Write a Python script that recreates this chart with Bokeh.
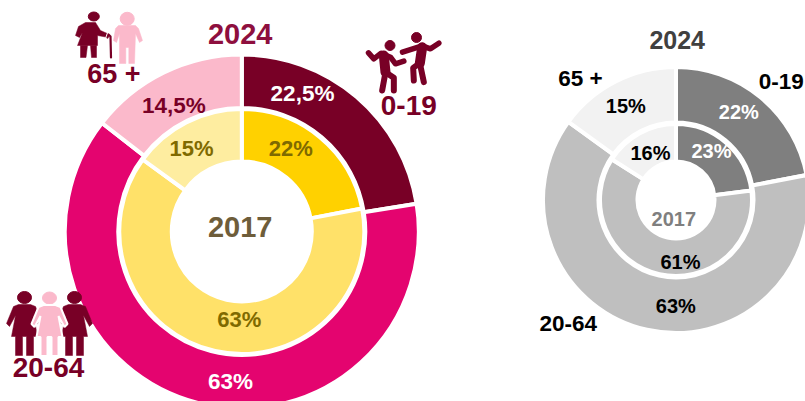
from math import pi
from bokeh.plotting import figure
from bokeh.embed import file_html
from bokeh.resources import INLINE
from bokeh.core.properties import value

groups = ["0-19", "20-64", "65 +"]
left_2024 = [22.5, 63, 14.5]
left_2017 = [22, 63, 15]
right_2024 = [22, 63, 15]
right_2017 = [23, 61, 16]
left_2024_labels = ["22,5%", "63%", "14,5%"]
left_2017_labels = ["22%", "63%", "15%"]
right_2024_labels = ["22%", "63%", "15%"]
right_2017_labels = ["23%", "61%", "16%"]

W, H = 805, 401
FONT = "Liberation Sans"
DARK = "#780026"
PINK = "#fbb9cb"

p = figure(width=W, height=H, output_backend="svg", toolbar_location=None,
           x_range=(0, W), y_range=(0, H), min_border=0, outline_line_color=None,
           margin=0)
p.axis.visible = False
p.grid.visible = False
p.background_fill_color = "white"
p.border_fill_color = "white"


def Y(y):
    return H - y


def ring(cx, cy, r0, r1, values, colors, gap=4):
    start = pi / 2
    total = sum(values)
    for v, c in zip(values, colors):
        end = start - 2 * pi * v / total
        p.annular_wedge([cx], [Y(cy)], inner_radius=r0, outer_radius=r1,
                        start_angle=end, end_angle=start, fill_color=c,
                        line_color="white", line_width=gap)
        start = end


def label(x, y, s, size, color):
    p.text([x], [Y(y - 0.8)], text=[s], text_font=value(FONT), text_font_style="bold",
           text_font_size=f"{size}px", text_color=color, text_align="center",
           text_baseline="middle")


ring(241.3, 231, 123.5, 177, left_2024, [DARK, "#e4046f", PINK])
ring(241.3, 231, 70, 122.5, left_2017, ["#ffd100", "#ffe169", "#feeda0"])
ring(675.5, 199.5, 77.5, 133, right_2024, ["#7f7f7f", "#bfbfbf", "#f2f2f2"])
ring(675.5, 199.5, 38.5, 76, right_2017, ["#7f7f7f", "#bfbfbf", "#f2f2f2"])

# left chart texts
label(239.7, 34.5, "2024", 29, "#8e0f3e")
label(239.7, 227, "2017", 29, "#6e5d3a")
label(408.3, 106, groups[0], 28, DARK)
label(48, 368, groups[1], 28, DARK)
label(113.3, 74, groups[2], 27, DARK)
label(302, 94, left_2024_labels[0], 22.5, "white")
label(230, 381.7, left_2024_labels[1], 22.5, "white")
label(173.3, 106, left_2024_labels[2], 22.5, DARK)
label(290.3, 149, left_2017_labels[0], 22, "#7f6a00")
label(238.7, 319.5, left_2017_labels[1], 22, "#7f6a00")
label(191, 149, left_2017_labels[2], 22, "#7f6a00")

# right chart texts
label(676.7, 40, "2024", 25, "#404040")
label(673.3, 219.5, "2017", 20, "#7f7f7f")
label(780.7, 81.7, groups[0], 22.5, "black")
label(567.7, 324, groups[1], 22.5, "black")
label(580, 78.3, groups[2], 22.5, "black")
label(738.3, 112.5, right_2024_labels[0], 20, "white")
label(675.3, 306, right_2024_labels[1], 20, "black")
label(625.3, 106.7, right_2024_labels[2], 20, "black")
label(711, 151.7, right_2017_labels[0], 20, "white")
label(680, 262, right_2017_labels[1], 20, "black")
label(650, 153.3, right_2017_labels[2], 20, "black")


def poly(pts, color, outline=None):
    p.patch([a for a, _ in pts], [Y(b) for _, b in pts], fill_color=color,
            line_color=outline or color, line_width=2 if outline else 0.5)


def stroke(pts, color, width):
    p.line([a for a, _ in pts], [Y(b) for _, b in pts], line_color=color,
           line_width=width, line_cap="round", line_join="round")


def head(x, y, rx, ry, color):
    p.ellipse([x], [Y(y)], width=2 * rx, height=2 * ry, fill_color=color, line_color=color)


def woman(cx, hy, color, outline=None):
    head(cx, hy, 7, 6, color)
    body = [(-6, 7), (6, 7), (11, 9), (18, 26), (15, 29), (9, 18), (13, 39), (9, 39), (9, 58),
            (2, 58), (2, 39), (-2, 39), (-2, 58), (-9, 58), (-9, 39), (-13, 39), (-9, 18),
            (-15, 29), (-18, 26), (-11, 9)]
    poly([(cx + a, hy + b) for a, b in body], color, outline)


# 20-64 icon
woman(24, 297, DARK)
woman(74, 297, DARK)
woman(49, 297.5, PINK, "white")

# 65 + icon: man first, then woman with cane
head(126.7, 18.3, 7, 6.5, PINK)
poly([(118, 25), (135, 25), (138, 28), (142, 40), (139, 42), (135, 33), (134, 63), (128.3, 63), (128.3, 47),
      (125.3, 47), (125.3, 63), (119, 63), (119, 33), (116, 42), (113, 40), (115, 28)], PINK)
head(93.3, 16, 5.5, 4.5, DARK)
poly([(85, 22), (95, 22), (100, 30), (109, 34), (108, 37), (97, 35), (97, 45), (77, 45), (82, 32),
      (79, 37), (75, 35), (78, 26)], DARK)
poly([(80, 45), (87, 45), (85.5, 57), (80, 57)], DARK)
poly([(90, 45), (96, 45), (96, 57), (91, 57)], DARK)
stroke([(107, 37), (108, 34), (110, 36), (110.5, 57)], "white", 4)
stroke([(107, 37), (108, 34), (110, 36), (110.5, 57)], DARK, 2.2)


def z(pts):
    return [(340 + a / 3, 20 + b / 3) for a, b in pts]


head(389.5, 45, 5, 5, DARK)
head(416, 37, 5, 5, DARK)
stroke(z([(84, 97), (100, 115), (122, 98), (150, 110), (165, 130), (190, 122)]), DARK, 5.5)
stroke(z([(130, 105), (135, 155)]), DARK, 10)
stroke(z([(135, 155), (125, 210)]), DARK, 6)
stroke(z([(135, 155), (160, 172), (160, 210)]), DARK, 6)
stroke(z([(186, 95), (245, 76), (270, 85), (295, 68)]), DARK, 5.5)
stroke(z([(245, 80), (238, 128)]), DARK, 10)
stroke(z([(238, 128), (218, 142), (220, 180)]), DARK, 6)
stroke(z([(238, 128), (250, 185)]), DARK, 6)

open("out.html", "w").write(file_html(p, INLINE))
